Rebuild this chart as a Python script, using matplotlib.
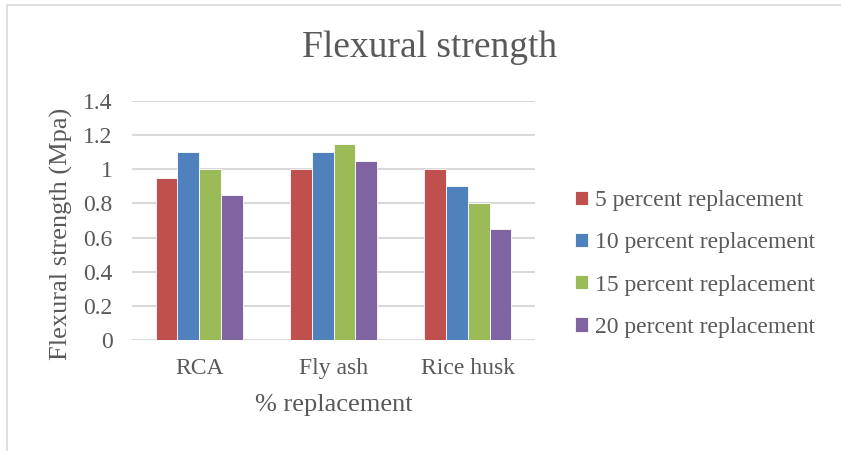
import numpy as np
import matplotlib.pyplot as plt
from matplotlib.patches import Rectangle

categories = ["RCA", "Fly ash", "Rice husk"]
series_names = ["5 percent replacement", "10 percent replacement",
                "15 percent replacement", "20 percent replacement"]
pct5 = [0.95, 1.0, 1.0]
pct10 = [1.1, 1.1, 0.9]
pct15 = [1.0, 1.15, 0.8]
pct20 = [0.85, 1.05, 0.65]
y_ticks = [0, 0.2, 0.4, 0.6, 0.8, 1, 1.2, 1.4]
y_ticklabels = ["0", "0.2", "0.4", "0.6", "0.8", "1", "1.2", "1.4"]

colors = ["#C0504D", "#4F81BD", "#9BBB59", "#8064A2"]
txt = "#595959"

plt.rcParams['font.family'] = ['Liberation Serif', 'DejaVu Serif']

fig = plt.figure(figsize=(8.41, 4.51), dpi=100)
ax = fig.add_axes([132 / 841, 111 / 451, 403 / 841, 239 / 451])

x = np.arange(len(categories))
w = 0.162
for k, vals in enumerate([pct5, pct10, pct15, pct20]):
    ax.bar(x + (k - 1.5) * w, vals, width=w, color=colors[k],
           label=series_names[k], zorder=3, linewidth=0.6, edgecolor="white")

ax.set_xlim(-0.5, 2.5)
ax.set_ylim(0, 1.4)
ax.set_yticks(y_ticks)
ax.set_yticklabels(y_ticklabels, fontsize=17, color=txt)
ax.set_xticks(x)
ax.set_xticklabels(categories, fontsize=17, color=txt)
ax.tick_params(length=0)
ax.tick_params(axis='x', pad=13)
ax.tick_params(axis='y', pad=14)
ax.grid(axis='y', color="#d9d9d9", linewidth=1.5, zorder=0)
for s in ax.spines.values():
    s.set_visible(False)

ax.set_ylabel("Flexural strength (Mpa)", fontsize=19, color=txt)
ax.yaxis.set_label_coords(-0.146, 0.444)
ax.set_xlabel("% replacement", fontsize=19, color=txt, labelpad=11)

fig.text(430 / 841, 1 - 48 / 451, "Flexural strength", fontsize=27,
         color=txt, ha="center", va="center")

leg = ax.legend(loc="center left", bbox_to_anchor=(554 / 841, 1 - 264 / 451),
                bbox_transform=fig.transFigure, frameon=False, fontsize=17,
                handlelength=0.55, handleheight=0.55, handletextpad=0.3,
                labelspacing=0.9, labelcolor=txt)

# outer chart border (left and top visible)
fig.patches.append(Rectangle((7 / 841, -0.05), 1.0, 1 - 5 / 451 + 0.05,
                             transform=fig.transFigure, fill=False,
                             edgecolor="#d9d9d9", linewidth=1.2))

fig.savefig("out.png", dpi=100)
